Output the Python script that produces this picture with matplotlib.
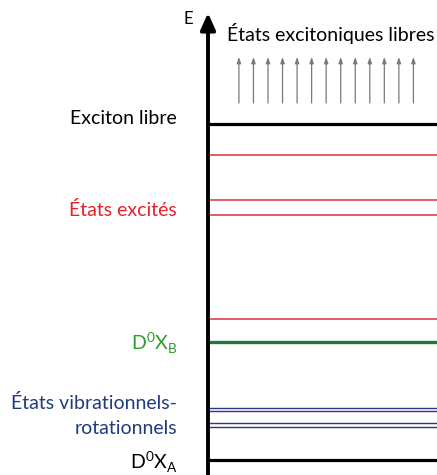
import matplotlib
matplotlib.use("Agg")
import matplotlib.pyplot as plt

plt.rcParams['font.family'] = ['Lato', 'DejaVu Sans']

# energy levels (arbitrary units)
exciton_libre = 351
red_levels = [320, 275, 260, 156]
green_level = 133
blue_levels = [67.5, 64, 52.5, 48]
d0xa = 15
e_top = 462
free_arrows = list(range(13))

labels = [
    ("Exciton libre", 357, "black"),
    ("États excités", 265, "#e8202a"),
    ("États vibrationnels-", 72, "#1f3b7f"),
    ("rotationnels", 47, "#1f3b7f"),
]

fig = plt.figure(figsize=(4.37, 4.75), dpi=100)
ax = fig.add_axes([208 / 437, 0, 229 / 437, 1])
ax.set_xlim(0, 1)
ax.set_ylim(0, 475)
ax.axis("off")

# vertical energy axis
ax.annotate("", xy=(0, e_top), xytext=(0, -5),
            arrowprops=dict(arrowstyle="-|>,head_width=0.45,head_length=1.0",
                            color="black", lw=2.8, shrinkA=0, shrinkB=0),
            annotation_clip=False)
ax.text(-0.065, 456, "E", ha="right", va="center", fontsize=12)

ax.hlines(exciton_libre, 0, 1, color="black", lw=2.3)
ax.hlines(red_levels, 0, 1, color="#d8323c", lw=1.1)
ax.hlines(green_level, 0, 1, color="#1e7a32", lw=2.4)
ax.hlines(blue_levels, 0, 1, color="#2e3290", lw=1.0)
ax.hlines(d0xa, 0, 1, color="black", lw=2.3)

# free exciton continuum arrows
x0, dx = 0.135, 0.0635
for i in free_arrows:
    x = x0 + i * dx
    ax.annotate("", xy=(x, 418), xytext=(x, 372),
                arrowprops=dict(arrowstyle="-|>,head_width=0.12,head_length=0.35",
                                color="#7a7a7a", lw=0.9, shrinkA=0, shrinkB=0))
ax.text(0.085, 441, "États excitoniques libres", ha="left", va="center", fontsize=14)

for txt, y, col in labels:
    ax.text(-0.135, y, txt, ha="right", va="center", fontsize=14, color=col)
ax.text(-0.135, 132, r"D$^{\mathregular{0}}$X$_{\mathregular{B}}$", ha="right", va="center",
        fontsize=14, color="#2f9a2f")
ax.text(-0.135, 13, r"D$^{\mathregular{0}}$X$_{\mathregular{A}}$", ha="right", va="center",
        fontsize=14, color="black")

fig.savefig("out.png", dpi=100)
